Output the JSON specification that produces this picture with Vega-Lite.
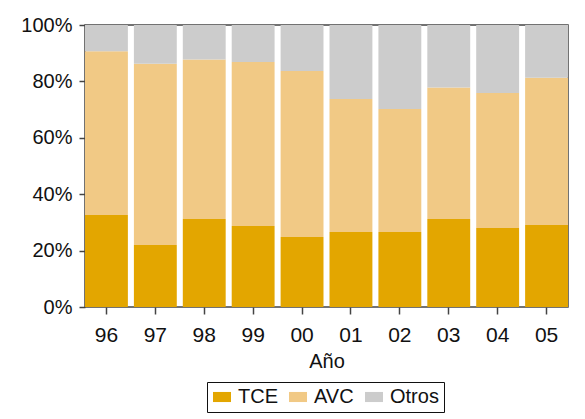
{
  "$schema": "https://vega.github.io/schema/vega-lite/v6.json",
  "width": 483,
  "height": 282,
  "autosize": {"type": "none"},
  "padding": {"left": 85, "top": 25, "right": 17, "bottom": 112},
  "background": "white",
  "data": {
    "values": [
      {"year": "96", "cat": "TCE", "ord": 1, "value": 32.6},
      {"year": "96", "cat": "AVC", "ord": 2, "value": 58.1},
      {"year": "96", "cat": "Otros", "ord": 3, "value": 9.3},
      {"year": "97", "cat": "TCE", "ord": 1, "value": 22.0},
      {"year": "97", "cat": "AVC", "ord": 2, "value": 64.3},
      {"year": "97", "cat": "Otros", "ord": 3, "value": 13.7},
      {"year": "98", "cat": "TCE", "ord": 1, "value": 31.2},
      {"year": "98", "cat": "AVC", "ord": 2, "value": 56.6},
      {"year": "98", "cat": "Otros", "ord": 3, "value": 12.2},
      {"year": "99", "cat": "TCE", "ord": 1, "value": 28.7},
      {"year": "99", "cat": "AVC", "ord": 2, "value": 58.2},
      {"year": "99", "cat": "Otros", "ord": 3, "value": 13.1},
      {"year": "00", "cat": "TCE", "ord": 1, "value": 24.8},
      {"year": "00", "cat": "AVC", "ord": 2, "value": 58.9},
      {"year": "00", "cat": "Otros", "ord": 3, "value": 16.3},
      {"year": "01", "cat": "TCE", "ord": 1, "value": 26.6},
      {"year": "01", "cat": "AVC", "ord": 2, "value": 47.2},
      {"year": "01", "cat": "Otros", "ord": 3, "value": 26.2},
      {"year": "02", "cat": "TCE", "ord": 1, "value": 26.6},
      {"year": "02", "cat": "AVC", "ord": 2, "value": 43.6},
      {"year": "02", "cat": "Otros", "ord": 3, "value": 29.8},
      {"year": "03", "cat": "TCE", "ord": 1, "value": 31.2},
      {"year": "03", "cat": "AVC", "ord": 2, "value": 46.6},
      {"year": "03", "cat": "Otros", "ord": 3, "value": 22.2},
      {"year": "04", "cat": "TCE", "ord": 1, "value": 28.0},
      {"year": "04", "cat": "AVC", "ord": 2, "value": 47.9},
      {"year": "04", "cat": "Otros", "ord": 3, "value": 24.1},
      {"year": "05", "cat": "TCE", "ord": 1, "value": 29.1},
      {"year": "05", "cat": "AVC", "ord": 2, "value": 52.2},
      {"year": "05", "cat": "Otros", "ord": 3, "value": 18.7}
    ]
  },
  "mark": {"type": "bar"},
  "encoding": {
    "x": {
      "field": "year",
      "type": "nominal",
      "sort": null,
      "title": "Año",
      "scale": {"paddingInner": 0.123, "paddingOuter": 0},
      "axis": {
        "labelAngle": 0,
        "tickSize": 7,
        "tickWidth": 1.5,
        "tickColor": "#444",
        "labelPadding": 10,
        "labelFontSize": 21,
        "titleFontSize": 20,
        "titlePadding": 6,
        "titleFontWeight": "normal",
        "domain": false
      }
    },
    "y": {
      "field": "value",
      "type": "quantitative",
      "stack": "zero",
      "title": null,
      "scale": {"domain": [0, 100], "nice": false},
      "axis": {
        "values": [0, 20, 40, 60, 80, 100],
        "labelExpr": "datum.value + '%'",
        "tickSize": 6,
        "tickWidth": 1.5,
        "tickColor": "#444",
        "labelPadding": 7,
        "labelFontSize": 20,
        "grid": false,
        "domain": false
      }
    },
    "color": {
      "field": "cat",
      "type": "nominal",
      "sort": ["TCE", "AVC", "Otros"],
      "scale": {"domain": ["TCE", "AVC", "Otros"], "range": ["#e3a600", "#f1c985", "#cccccc"]},
      "legend": {
        "title": null,
        "orient": "none",
        "direction": "horizontal",
        "legendX": 122,
        "legendY": 357,
        "strokeColor": "#111",
        "padding": 5,
        "symbolType": "M-1,-0.56H1V0.56H-1Z",
        "symbolSize": 324,
        "symbolStrokeWidth": 0,
        "symbolOpacity": 1,
        "labelFontSize": 20,
        "labelOffset": 6,
        "columnPadding": 10
      }
    },
    "order": {"field": "ord", "type": "quantitative"}
  },
  "config": {
    "font": "Liberation Sans",
    "view": {"stroke": "#444", "strokeWidth": 1.5},
    "axis": {"labelColor": "#111", "titleColor": "#111"},
    "legend": {"labelColor": "#111"}
  }
}
